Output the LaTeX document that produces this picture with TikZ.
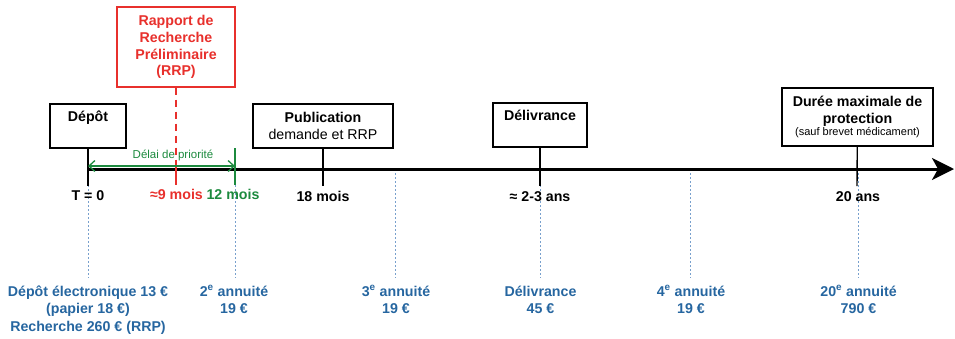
\documentclass[tikz,border=0pt]{standalone}
\usepackage{fontspec}
\setmainfont{Liberation Sans}
\usetikzlibrary{arrows.meta,positioning}

\definecolor{rrpred}{RGB}{232,48,44}
\definecolor{delaigreen}{RGB}{28,138,62}
\definecolor{feeblue}{RGB}{38,102,160}
\definecolor{guideblue}{RGB}{120,160,205}

\tikzset{
  evbox/.style={draw, line width=1.3pt, fill=white, inner sep=0pt, align=center,
    font=\bfseries\fontsize{14.2}{16.8}\selectfont},
  ticklbl/.style={anchor=base, inner sep=0pt, font=\bfseries\fontsize{14.2}{16.8}\selectfont},
  feelbl/.style={anchor=base, align=center, inner sep=0pt, text=feeblue,
    font=\bfseries\fontsize{14.2}{17.5}\selectfont},
  guide/.style={guideblue, line width=0.8pt, dash pattern=on 2pt off 2pt},
  tickline/.style={line width=1.4pt}
}

\begin{document}
\begin{tikzpicture}[x=1pt, y=-1pt]
  \useasboundingbox (0,0) rectangle (955,338);

  % Dotted guides down to the fees
  \foreach \x in {88,235,395,540,690,858} {
    \draw[guide] (\x,169) -- (\x,278);
  }

  % Main time axis
  \coordinate (t0) at (88,169);
  \coordinate (tend) at (954,169);
  \draw[line width=3pt, -{Stealth[length=22pt, width=22pt, inset=6pt]}] (t0) -- (tend);

  % Event boxes
  \node[evbox, minimum width=76pt, minimum height=44pt] (depot) at (88,126) {};
  \node[ticklbl] (depot txt) at ([yshift=-18.5pt]depot.north) {Dépôt};

  \node[evbox, minimum width=140pt, minimum height=44pt] (pub) at (323,126)
    {Publication\\{\mdseries demande et RRP}};

  \node[evbox, minimum width=94pt, minimum height=44pt] (deliv) at (540,125) {};
  \node[ticklbl] (deliv txt) at ([yshift=-17.7pt]deliv.north) {Délivrance};

  \node[evbox, minimum width=151pt, minimum height=58pt] (duree) at (857.5,117)
    {Durée maximale de\\protection\\[-4pt]{\mdseries\fontsize{11}{13}\selectfont (sauf brevet médicament)}};

  \node[evbox, draw=rrpred, text=rrpred, minimum width=118pt, minimum height=80pt] (rrp) at (176,47)
    {Rapport de\\Recherche\\Préliminaire\\(RRP)};

  % Ticks from the boxes
  \draw[tickline] (depot) -- (88,186);
  \draw[tickline] (pub) -- (323,186);
  \draw[tickline] (deliv) -- (540,186);
  \draw[tickline] (duree) -- (857,186);

  % RRP marker
  \coordinate (rrp axis) at (176,167);
  \draw[rrpred, line width=2pt, dash pattern=on 7pt off 5pt] (rrp) -- (rrp axis);
  \draw[rrpred, line width=2pt] (rrp axis) -- (176,185);

  % Priority period
  \coordinate (prio top) at (235,148);
  \draw[delaigreen, line width=1.4pt] (prio top) -- (235,185);
  \coordinate (prio l) at (88,166);
  \coordinate (prio r) at (235,166);
  \draw[delaigreen, line width=1.3pt,
    {Straight Barb[length=6pt, width=11pt]}-{Straight Barb[length=6pt, width=11pt]}] (prio l) -- (prio r);
  \node[anchor=base, inner sep=0pt, text=delaigreen, font=\fontsize{11.5}{13}\selectfont]
    (prio txt) at (173,158.7) {Délai de priorité};

  % Axis labels
  \node[ticklbl] (l0) at (88,200) {T = 0};
  \node[ticklbl, text=rrpred] (l9) at (176.5,199.5) {≈9 mois};
  \node[ticklbl, text=delaigreen] (l12) at (233,199.5) {12 mois};
  \node[ticklbl] (l18) at (323,201.5) {18 mois};
  \node[ticklbl] (l23) at (540,201.5) {≈ 2-3 ans};
  \node[ticklbl] (l20) at (858,201.5) {20 ans};

  % Fees (base = last line)
  \node[feelbl] (f0) at (88,331) {Dépôt électronique 13 €\\(papier 18 €)\\Recherche 260 € (RRP)};
  \node[feelbl] (f2) at (234,313.5) {2\textsuperscript{e} annuité\\19 €};
  \node[feelbl] (f3) at (396,313.5) {3\textsuperscript{e} annuité\\19 €};
  \node[feelbl] (fd) at (540.5,313.5) {Délivrance\\45 €};
  \node[feelbl] (f4) at (691,313.5) {4\textsuperscript{e} annuité\\19 €};
  \node[feelbl] (f20) at (858.5,313.5) {20\textsuperscript{e} annuité\\790 €};
\end{tikzpicture}
\end{document}
